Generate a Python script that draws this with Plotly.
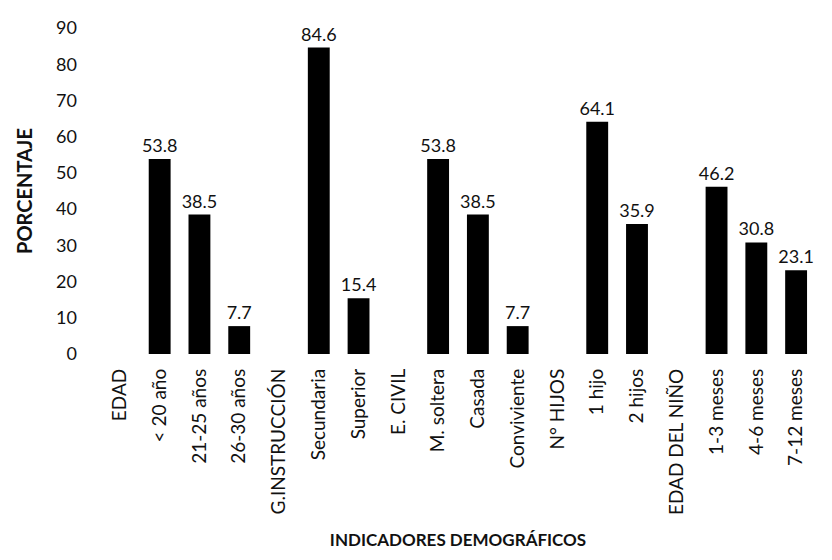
import plotly.graph_objects as go

# Categories (group headers have no bar)
categorias = [
    "EDAD", "< 20 año", "21-25 años", "26-30 años",
    "G.INSTRUCCIÓN", "Secundaria", "Superior",
    "E. CIVIL", "M. soltera", "Casada", "Conviviente",
    "N° HIJOS", "1 hijo", "2 hijos",
    "EDAD DEL NIÑO", "1-3 meses", "4-6 meses", "7-12 meses",
]
porcentaje = [
    None, 53.8, 38.5, 7.7,
    None, 84.6, 15.4,
    None, 53.8, 38.5, 7.7,
    None, 64.1, 35.9,
    None, 46.2, 30.8, 23.1,
]
etiquetas = ["" if v is None else f"{v:.1f}" for v in porcentaje]
y_ticks = list(range(0, 100, 10))

FONT = "Lato, 'Open Sans', sans-serif"

fig = go.Figure(go.Bar(
    x=categorias,
    y=porcentaje,
    marker=dict(color="#000000", line=dict(width=0)),
    text=etiquetas,
    textposition="outside",
    constraintext="none",
    textfont=dict(size=18, color="#111111", family=FONT),
    cliponaxis=False,
))

fig.update_layout(
    width=832, height=560,
    plot_bgcolor="white", paper_bgcolor="white",
    font=dict(family=FONT, color="#111111"),
    margin=dict(l=92, r=24, t=20, b=214),
    bargap=0.45,
    showlegend=False,
    xaxis=dict(
        tickangle=-90,
        tickfont=dict(size=19),
        showline=False, showgrid=False, ticks="",
        ticklabelstandoff=10,
        automargin=False,
        title=dict(text="<b>INDICADORES DEMOGRÁFICOS</b>", font=dict(size=17), standoff=20),
    ),
    yaxis=dict(
        range=[0, 90],
        tickvals=y_ticks,
        tickfont=dict(size=18),
        showline=False, showgrid=False, zeroline=False, ticks="",
        ticklabelstandoff=22,
        automargin=False,
        title=dict(text="<b>PORCENTAJE</b>", font=dict(size=20), standoff=18),
    ),
)

fig.write_html("out.html")
